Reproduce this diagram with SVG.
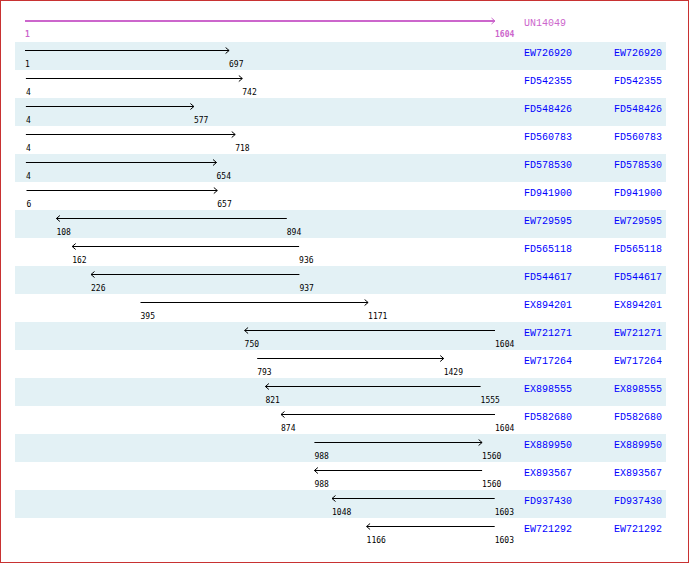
<svg xmlns="http://www.w3.org/2000/svg" width="690" height="564" viewBox="0 0 690 564">
<defs>
<style>
.band{fill:#e3f1f5}
.id{font-family:"Liberation Mono","DejaVu Sans Mono",monospace;font-size:10px;fill:#0000ff}
.num{font-family:"DejaVu Sans Mono","Liberation Mono",monospace;font-size:8px;fill:#000}
.tnum{font-family:"DejaVu Sans Mono","Liberation Mono",monospace;font-size:8px;fill:#cc66cc;font-weight:bold}
.tid{font-family:"Liberation Mono","DejaVu Sans Mono",monospace;font-size:10px;fill:#cc66cc}
.ln{stroke:#000;stroke-width:1;fill:none;marker-end:url(#ah)}
.tln{stroke:#cc66cc;stroke-width:2;fill:none;marker-end:url(#tah)}
</style>
<marker id="ah" viewBox="0 0 8 8" refX="7" refY="4" markerWidth="8" markerHeight="8" orient="auto" markerUnits="userSpaceOnUse"><path d="M3.5,1 L7,4 L3.5,7" fill="none" stroke="#000" stroke-width="1"/></marker>
<marker id="tah" viewBox="0 0 8 8" refX="7" refY="4" markerWidth="8" markerHeight="8" orient="auto" markerUnits="userSpaceOnUse"><path d="M3.5,1 L7,4 L3.5,7" fill="none" stroke="#cc66cc" stroke-width="1"/></marker>
</defs>
<rect x="0.5" y="0.5" width="688" height="562" fill="#fff" stroke="#c83232" stroke-width="1"/>
<g id="bands">
<rect class="band" x="15" y="42" width="651" height="28"/>
<rect class="band" x="15" y="98" width="651" height="28"/>
<rect class="band" x="15" y="154" width="651" height="28"/>
<rect class="band" x="15" y="210" width="651" height="28"/>
<rect class="band" x="15" y="266" width="651" height="28"/>
<rect class="band" x="15" y="322" width="651" height="28"/>
<rect class="band" x="15" y="378" width="651" height="28"/>
<rect class="band" x="15" y="434" width="651" height="28"/>
<rect class="band" x="15" y="490" width="651" height="28"/>
</g>
<g id="connectors">
<line class="tln" x1="25" y1="21" x2="495" y2="21"/>
<line class="ln" x1="25" y1="50.5" x2="229.1" y2="50.5"/>
<line class="ln" x1="25.9" y1="78.5" x2="242.3" y2="78.5"/>
<line class="ln" x1="25.9" y1="106.5" x2="193.9" y2="106.5"/>
<line class="ln" x1="25.9" y1="134.5" x2="235.2" y2="134.5"/>
<line class="ln" x1="25.9" y1="162.5" x2="216.5" y2="162.5"/>
<line class="ln" x1="26.5" y1="190.5" x2="217.3" y2="190.5"/>
<line class="ln" x1="286.8" y1="218.5" x2="56.4" y2="218.5"/>
<line class="ln" x1="299.1" y1="246.5" x2="72.2" y2="246.5"/>
<line class="ln" x1="299.4" y1="274.5" x2="91" y2="274.5"/>
<line class="ln" x1="140.5" y1="302.5" x2="368.1" y2="302.5"/>
<line class="ln" x1="495" y1="330.5" x2="244.6" y2="330.5"/>
<line class="ln" x1="257.2" y1="358.5" x2="443.7" y2="358.5"/>
<line class="ln" x1="480.6" y1="386.5" x2="265.4" y2="386.5"/>
<line class="ln" x1="495" y1="414.5" x2="281" y2="414.5"/>
<line class="ln" x1="314.4" y1="442.5" x2="482.1" y2="442.5"/>
<line class="ln" x1="482.1" y1="470.5" x2="314.4" y2="470.5"/>
<line class="ln" x1="494.7" y1="498.5" x2="332" y2="498.5"/>
<line class="ln" x1="494.7" y1="526.5" x2="366.6" y2="526.5"/>
</g>
<g id="n0"><text class="tnum" x="25" y="37">1</text><text class="tnum" x="495" y="37">1604</text><text class="tid" x="524" y="26">UN14049</text></g>
<g id="n1"><text class="num" x="25" y="67">1</text><text class="num" x="229" y="67">697</text><text class="id" x="524" y="56">EW726920</text><text class="id" x="614" y="56">EW726920</text></g>
<g id="n2"><text class="num" x="25.9" y="95">4</text><text class="num" x="242.3" y="95">742</text><text class="id" x="524" y="84">FD542355</text><text class="id" x="614" y="84">FD542355</text></g>
<g id="n3"><text class="num" x="25.9" y="123">4</text><text class="num" x="193.9" y="123">577</text><text class="id" x="524" y="112">FD548426</text><text class="id" x="614" y="112">FD548426</text></g>
<g id="n4"><text class="num" x="25.9" y="151">4</text><text class="num" x="235.2" y="151">718</text><text class="id" x="524" y="140">FD560783</text><text class="id" x="614" y="140">FD560783</text></g>
<g id="n5"><text class="num" x="25.9" y="179">4</text><text class="num" x="216.5" y="179">654</text><text class="id" x="524" y="168">FD578530</text><text class="id" x="614" y="168">FD578530</text></g>
<g id="n6"><text class="num" x="26.5" y="207">6</text><text class="num" x="217.3" y="207">657</text><text class="id" x="524" y="196">FD941900</text><text class="id" x="614" y="196">FD941900</text></g>
<g id="n7"><text class="num" x="56.4" y="235">108</text><text class="num" x="286.8" y="235">894</text><text class="id" x="524" y="224">EW729595</text><text class="id" x="614" y="224">EW729595</text></g>
<g id="n8"><text class="num" x="72.2" y="263">162</text><text class="num" x="299.1" y="263">936</text><text class="id" x="524" y="252">FD565118</text><text class="id" x="614" y="252">FD565118</text></g>
<g id="n9"><text class="num" x="91" y="291">226</text><text class="num" x="299.4" y="291">937</text><text class="id" x="524" y="280">FD544617</text><text class="id" x="614" y="280">FD544617</text></g>
<g id="n10"><text class="num" x="140.5" y="319">395</text><text class="num" x="368.1" y="319">1171</text><text class="id" x="524" y="308">EX894201</text><text class="id" x="614" y="308">EX894201</text></g>
<g id="n11"><text class="num" x="244.6" y="347">750</text><text class="num" x="495" y="347">1604</text><text class="id" x="524" y="336">EW721271</text><text class="id" x="614" y="336">EW721271</text></g>
<g id="n12"><text class="num" x="257.2" y="375">793</text><text class="num" x="443.7" y="375">1429</text><text class="id" x="524" y="364">EW717264</text><text class="id" x="614" y="364">EW717264</text></g>
<g id="n13"><text class="num" x="265.4" y="403">821</text><text class="num" x="480.6" y="403">1555</text><text class="id" x="524" y="392">EX898555</text><text class="id" x="614" y="392">EX898555</text></g>
<g id="n14"><text class="num" x="281" y="431">874</text><text class="num" x="495" y="431">1604</text><text class="id" x="524" y="420">FD582680</text><text class="id" x="614" y="420">FD582680</text></g>
<g id="n15"><text class="num" x="314.4" y="459">988</text><text class="num" x="482.1" y="459">1560</text><text class="id" x="524" y="448">EX889950</text><text class="id" x="614" y="448">EX889950</text></g>
<g id="n16"><text class="num" x="314.4" y="487">988</text><text class="num" x="482.1" y="487">1560</text><text class="id" x="524" y="476">EX893567</text><text class="id" x="614" y="476">EX893567</text></g>
<g id="n17"><text class="num" x="332" y="515">1048</text><text class="num" x="494.7" y="515">1603</text><text class="id" x="524" y="504">FD937430</text><text class="id" x="614" y="504">FD937430</text></g>
<g id="n18"><text class="num" x="366.6" y="543">1166</text><text class="num" x="494.7" y="543">1603</text><text class="id" x="524" y="532">EW721292</text><text class="id" x="614" y="532">EW721292</text></g>
</svg>
